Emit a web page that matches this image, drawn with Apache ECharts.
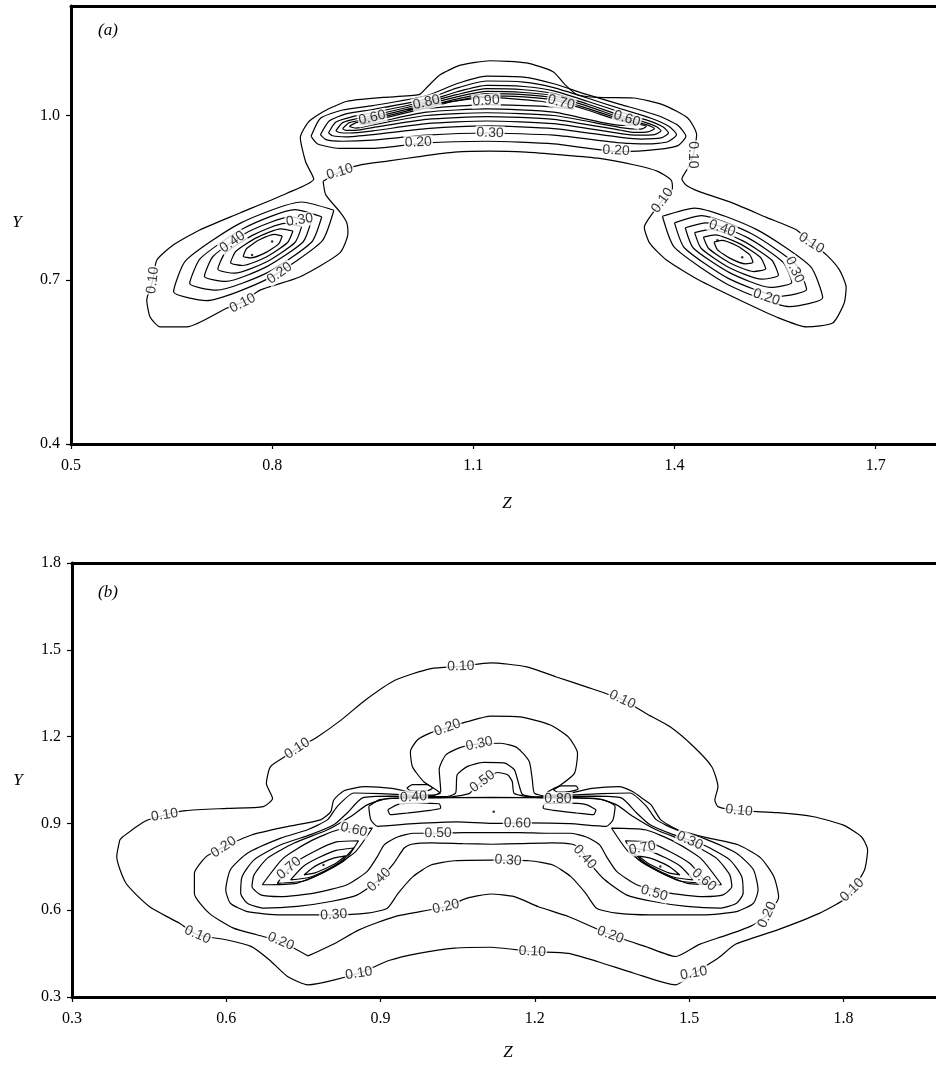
<!DOCTYPE html>
<html><head><meta charset="utf-8">
<script src="https://cdn.jsdelivr.net/npm/echarts@6/dist/echarts.min.js"></script>
<style>html,body{margin:0;padding:0;background:#fff}#c{width:936px;height:1066px}</style>
</head><body><div id="c"></div>
<script>
// ---------- axis ticks ----------
const xTicksA = [0.5, 0.8, 1.1, 1.4, 1.7];
const yTicksA = [0.4, 0.7, 1.0];
const xTicksB = [0.3, 0.6, 0.9, 1.2, 1.5, 1.8];
const yTicksB = [0.3, 0.6, 0.9, 1.2, 1.5, 1.8];

// ---------- panel (a) contours [Z, Y] ----------
const A_c010 = [[0.876,0.880],[0.880,0.855],[0.901,0.824],[0.911,0.805],[0.913,0.785],[0.901,0.749],[0.841,0.705],[0.782,0.681],[0.756,0.659],[0.732,0.648],[0.673,0.614],[0.633,0.614],[0.618,0.632],[0.613,0.663],[0.622,0.699],[0.628,0.736],[0.652,0.763],[0.692,0.791],[0.752,0.822],[0.822,0.858],[0.862,0.884],[0.850,0.915],[0.842,0.960],[0.854,0.988],[0.876,1.007],[0.912,1.026],[0.965,1.033],[1.019,1.038],[1.032,1.053],[1.050,1.074],[1.081,1.092],[1.125,1.100],[1.179,1.096],[1.219,1.080],[1.237,1.056],[1.255,1.038],[1.286,1.033],[1.339,1.032],[1.384,1.019],[1.420,0.995],[1.433,0.965],[1.428,0.928],[1.420,0.904],[1.411,0.884],[1.418,0.872],[1.437,0.861],[1.487,0.840],[1.537,0.814],[1.582,0.791],[1.604,0.767],[1.627,0.745],[1.646,0.718],[1.656,0.686],[1.653,0.657],[1.636,0.621],[1.597,0.614],[1.552,0.632],[1.497,0.663],[1.437,0.699],[1.388,0.736],[1.363,0.767],[1.355,0.796],[1.363,0.814],[1.382,0.845],[1.397,0.867],[1.395,0.882],[1.375,0.898],[1.339,0.910],[1.286,0.922],[1.232,0.928],[1.179,0.933],[1.125,0.935],[1.072,0.933],[1.019,0.925],[0.974,0.917],[0.929,0.909],[0.901,0.897],[0.876,0.880]];
const A_left020 = [[0.892,0.827],[0.844,0.842],[0.752,0.803],[0.671,0.735],[0.653,0.678],[0.702,0.662],[0.794,0.702],[0.874,0.770],[0.892,0.827]];
const A_left030 = [[0.874,0.815],[0.834,0.828],[0.759,0.795],[0.693,0.739],[0.677,0.693],[0.717,0.681],[0.793,0.713],[0.859,0.769],[0.874,0.815]];
const A_left040 = [[0.858,0.806],[0.827,0.815],[0.765,0.788],[0.712,0.743],[0.699,0.706],[0.731,0.697],[0.792,0.724],[0.846,0.769],[0.858,0.806]];
const A_left050 = [[0.844,0.797],[0.819,0.803],[0.772,0.782],[0.729,0.747],[0.719,0.719],[0.744,0.712],[0.792,0.733],[0.834,0.768],[0.844,0.797]];
const A_left060 = [[0.831,0.789],[0.813,0.793],[0.777,0.777],[0.746,0.752],[0.738,0.731],[0.756,0.726],[0.792,0.742],[0.823,0.768],[0.831,0.789]];
const A_left070 = [[0.815,0.780],[0.804,0.783],[0.781,0.773],[0.762,0.757],[0.757,0.743],[0.768,0.740],[0.791,0.750],[0.810,0.766],[0.815,0.780]];
const A_right020 = [[1.382,0.816],[1.430,0.831],[1.522,0.792],[1.603,0.724],[1.621,0.667],[1.572,0.651],[1.480,0.691],[1.400,0.759],[1.382,0.816]];
const A_right030 = [[1.400,0.804],[1.440,0.817],[1.515,0.784],[1.581,0.728],[1.597,0.682],[1.557,0.670],[1.481,0.702],[1.415,0.758],[1.400,0.804]];
const A_right040 = [[1.416,0.795],[1.447,0.804],[1.509,0.777],[1.562,0.732],[1.575,0.695],[1.543,0.686],[1.482,0.713],[1.428,0.758],[1.416,0.795]];
const A_right050 = [[1.430,0.786],[1.455,0.792],[1.502,0.771],[1.545,0.736],[1.555,0.708],[1.530,0.701],[1.482,0.722],[1.440,0.757],[1.430,0.786]];
const A_right060 = [[1.443,0.778],[1.461,0.782],[1.497,0.766],[1.528,0.741],[1.536,0.720],[1.518,0.715],[1.482,0.731],[1.451,0.757],[1.443,0.778]];
const A_right070 = [[1.459,0.769],[1.470,0.772],[1.493,0.762],[1.512,0.746],[1.517,0.732],[1.506,0.729],[1.483,0.739],[1.464,0.755],[1.459,0.769]];
const A_arch020 = [[0.858,0.962],[0.872,0.995],[0.905,1.010],[0.950,1.018],[1.030,1.036],[1.075,1.058],[1.120,1.072],[1.175,1.070],[1.220,1.058],[1.270,1.038],[1.320,1.020],[1.375,1.000],[1.405,0.982],[1.417,0.962],[1.405,0.945],[1.375,0.938],[1.320,0.934],[1.220,0.948],[1.120,0.953],[1.030,0.950],[0.950,0.940],[0.900,0.940],[0.868,0.948],[0.858,0.962]];
const A_arch030 = [[0.872,0.965],[0.885,0.990],[0.910,1.003],[0.950,1.011],[1.030,1.030],[1.075,1.050],[1.120,1.063],[1.175,1.061],[1.220,1.051],[1.270,1.032],[1.320,1.012],[1.365,0.995],[1.392,0.980],[1.403,0.965],[1.390,0.952],[1.360,0.948],[1.320,0.950],[1.220,0.964],[1.120,0.968],[1.030,0.964],[0.950,0.955],[0.905,0.953],[0.880,0.956],[0.872,0.965]];
const A_arch040 = [[0.884,0.968],[0.895,0.988],[0.920,0.998],[0.950,1.005],[1.030,1.026],[1.075,1.043],[1.120,1.055],[1.175,1.053],[1.220,1.045],[1.270,1.026],[1.320,1.006],[1.360,0.991],[1.383,0.979],[1.391,0.968],[1.380,0.959],[1.350,0.957],[1.320,0.960],[1.220,0.976],[1.120,0.981],[1.030,0.976],[0.950,0.965],[0.910,0.961],[0.890,0.963],[0.884,0.968]];
const A_arch050 = [[0.895,0.972],[0.905,0.987],[0.925,0.994],[0.950,1.000],[1.030,1.023],[1.075,1.038],[1.120,1.049],[1.175,1.047],[1.220,1.040],[1.270,1.021],[1.320,1.000],[1.355,0.988],[1.374,0.979],[1.380,0.972],[1.370,0.965],[1.345,0.964],[1.320,0.967],[1.220,0.985],[1.120,0.990],[1.030,0.985],[0.950,0.972],[0.915,0.968],[0.900,0.969],[0.895,0.972]];
const A_arch060 = [[0.905,0.976],[0.915,0.987],[0.935,0.992],[0.950,0.996],[1.030,1.020],[1.075,1.034],[1.120,1.044],[1.175,1.042],[1.220,1.036],[1.270,1.017],[1.320,0.996],[1.350,0.986],[1.365,0.980],[1.370,0.976],[1.360,0.970],[1.340,0.969],[1.320,0.973],[1.220,0.993],[1.120,0.998],[1.030,0.993],[0.950,0.978],[0.925,0.973],[0.910,0.973],[0.905,0.976]];
const A_arch070 = [[0.915,0.980],[0.925,0.987],[0.950,0.993],[1.030,1.017],[1.075,1.030],[1.120,1.040],[1.175,1.038],[1.220,1.032],[1.270,1.013],[1.320,0.993],[1.345,0.985],[1.358,0.980],[1.350,0.975],[1.320,0.978],[1.220,1.000],[1.120,1.005],[1.030,1.000],[0.950,0.983],[0.925,0.977],[0.915,0.980]];
const A_arch080 = [[0.930,0.984],[0.950,0.990],[1.030,1.014],[1.075,1.027],[1.120,1.036],[1.175,1.034],[1.220,1.028],[1.270,1.010],[1.320,0.990],[1.345,0.984],[1.320,0.982],[1.220,1.006],[1.120,1.012],[1.030,1.006],[0.950,0.986],[0.930,0.984]];
const A_arch090 = [[1.000,1.010],[1.050,1.022],[1.120,1.033],[1.200,1.026],[1.250,1.012],[1.200,1.017],[1.120,1.020],[1.050,1.015],[1.000,1.010]];
const A_dots = [[0.770,0.745],[0.800,0.770],[1.464,0.772],[1.501,0.741]];
const A_labels = [[0.756,0.657,'0.10'],[0.622,0.699,'0.10'],[0.811,0.712,'0.20'],[0.841,0.809,'0.30'],[0.741,0.769,'0.40'],
  [1.604,0.767,'0.10'],[1.382,0.845,'0.10'],[1.471,0.794,'0.40'],[1.579,0.718,'0.30'],[1.537,0.668,'0.20'],
  [0.901,0.897,'0.10'],[1.428,0.928,'0.10'],[1.018,0.951,'0.20'],[1.313,0.936,'0.20'],[1.125,0.968,'0.30'],
  [0.949,0.996,'0.60'],[1.030,1.024,'0.80'],[1.119,1.027,'0.90'],[1.231,1.024,'0.70'],[1.329,0.994,'0.60']];

// ---------- panel (b) contours [Z, Y] ----------
const B_c010 = [[0.393,0.843],[0.387,0.785],[0.405,0.693],[0.451,0.612],[0.509,0.555],[0.544,0.515],[0.602,0.497],[0.649,0.474],[0.684,0.428],[0.719,0.371],[0.759,0.342],[0.858,0.382],[0.916,0.426],[0.974,0.451],[1.044,0.469],[1.114,0.472],[1.195,0.457],[1.265,0.451],[1.323,0.422],[1.393,0.382],[1.474,0.342],[1.509,0.382],[1.556,0.434],[1.591,0.483],[1.672,0.532],[1.753,0.589],[1.800,0.635],[1.817,0.670],[1.841,0.739],[1.847,0.808],[1.835,0.854],[1.800,0.894],[1.742,0.923],[1.672,0.937],[1.597,0.944],[1.556,0.958],[1.550,0.981],[1.556,1.027],[1.544,1.096],[1.509,1.165],[1.463,1.234],[1.416,1.280],[1.370,1.328],[1.300,1.372],[1.242,1.406],[1.184,1.441],[1.114,1.455],[1.056,1.443],[0.998,1.435],[0.928,1.395],[0.870,1.326],[0.823,1.257],[0.777,1.199],[0.738,1.159],[0.719,1.136],[0.686,1.096],[0.678,1.038],[0.690,0.986],[0.672,0.958],[0.602,0.952],[0.521,0.944],[0.480,0.929],[0.440,0.906],[0.399,0.854],[0.393,0.843]];
const B_c020 = [[0.759,0.442],[0.706,0.492],[0.659,0.515],[0.614,0.538],[0.567,0.589],[0.538,0.658],[0.538,0.727],[0.561,0.785],[0.595,0.818],[0.649,0.860],[0.719,0.889],[0.783,0.912],[0.803,0.940],[0.809,0.981],[0.829,1.013],[0.870,1.027],[0.922,1.021],[0.963,1.006],[1.000,0.998],[1.016,1.004],[0.984,1.044],[0.962,1.096],[0.958,1.148],[0.972,1.189],[0.997,1.213],[1.030,1.231],[1.069,1.252],[1.114,1.271],[1.172,1.268],[1.230,1.240],[1.265,1.199],[1.283,1.142],[1.277,1.073],[1.250,1.033],[1.222,1.004],[1.236,0.998],[1.272,1.006],[1.311,1.021],[1.363,1.027],[1.390,1.010],[1.410,0.985],[1.426,0.964],[1.445,0.912],[1.478,0.878],[1.536,0.850],[1.595,0.826],[1.639,0.781],[1.665,0.715],[1.674,0.646],[1.652,0.584],[1.620,0.545],[1.570,0.512],[1.520,0.482],[1.474,0.440],[1.416,0.474],[1.347,0.515],[1.265,0.578],[1.207,0.612],[1.160,0.647],[1.114,0.656],[1.067,0.641],[1.027,0.612],[0.928,0.578],[0.858,0.532],[0.812,0.486],[0.759,0.442]];
const B_c030 = [[1.117,0.773],[1.044,0.771],[0.998,0.756],[0.963,0.716],[0.934,0.658],[0.913,0.607],[0.874,0.590],[0.809,0.584],[0.706,0.584],[0.641,0.595],[0.608,0.624],[0.599,0.670],[0.608,0.740],[0.641,0.797],[0.706,0.849],[0.758,0.878],[0.797,0.913],[0.816,0.959],[0.848,1.005],[0.900,1.003],[0.960,0.998],[1.000,0.995],[1.017,1.011],[1.014,1.086],[1.027,1.137],[1.056,1.163],[1.092,1.175],[1.134,1.177],[1.166,1.161],[1.189,1.114],[1.195,1.051],[1.199,1.005],[1.220,0.995],[1.270,0.998],[1.330,1.003],[1.385,1.005],[1.417,0.959],[1.436,0.913],[1.475,0.878],[1.527,0.849],[1.592,0.797],[1.625,0.740],[1.634,0.670],[1.625,0.624],[1.592,0.595],[1.527,0.584],[1.424,0.584],[1.359,0.590],[1.320,0.607],[1.299,0.658],[1.270,0.716],[1.235,0.756],[1.189,0.771],[1.117,0.773]];
const B_c040 = [[1.117,0.828],[1.060,0.830],[1.000,0.833],[0.960,0.828],[0.946,0.815],[0.926,0.763],[0.897,0.705],[0.855,0.653],[0.803,0.630],[0.738,0.613],[0.673,0.607],[0.641,0.624],[0.628,0.659],[0.631,0.717],[0.654,0.774],[0.706,0.826],[0.764,0.861],[0.809,0.895],[0.835,0.936],[0.865,0.988],[0.920,0.994],[0.980,0.993],[1.030,0.993],[1.046,1.005],[1.049,1.068],[1.069,1.097],[1.101,1.111],[1.140,1.109],[1.160,1.086],[1.169,1.034],[1.176,1.000],[1.200,0.992],[1.250,0.993],[1.313,0.994],[1.368,0.988],[1.398,0.936],[1.424,0.895],[1.469,0.861],[1.527,0.826],[1.579,0.774],[1.602,0.717],[1.605,0.659],[1.592,0.624],[1.560,0.607],[1.495,0.613],[1.430,0.630],[1.378,0.653],[1.336,0.705],[1.307,0.763],[1.287,0.815],[1.273,0.828],[1.233,0.833],[1.170,0.830],[1.117,0.828]];
const B_c050 = [[1.117,0.868],[1.060,0.868],[1.010,0.866],[0.965,0.866],[0.933,0.853],[0.907,0.826],[0.894,0.786],[0.874,0.734],[0.835,0.688],[0.771,0.659],[0.706,0.647],[0.667,0.653],[0.650,0.682],[0.654,0.722],[0.680,0.780],[0.732,0.832],[0.797,0.878],[0.842,0.924],[0.874,0.964],[0.910,0.985],[0.960,0.989],[1.030,0.990],[1.072,1.003],[1.082,1.022],[1.098,1.045],[1.127,1.076],[1.147,1.068],[1.156,1.045],[1.160,1.003],[1.200,0.990],[1.270,0.989],[1.323,0.985],[1.359,0.964],[1.391,0.924],[1.436,0.878],[1.501,0.832],[1.553,0.780],[1.579,0.722],[1.583,0.682],[1.566,0.653],[1.527,0.647],[1.462,0.659],[1.398,0.688],[1.359,0.734],[1.339,0.786],[1.326,0.826],[1.300,0.853],[1.268,0.866],[1.223,0.866],[1.170,0.868],[1.117,0.868]];
const B_plateau060 = [[0.877,0.959],[0.881,0.913],[0.894,0.890],[0.965,0.899],[1.049,0.905],[1.117,0.900],[1.185,0.902],[1.268,0.899],[1.339,0.890],[1.352,0.913],[1.356,0.959],[1.330,0.983],[1.250,0.988],[1.117,0.990],[0.980,0.988],[0.900,0.983],[0.877,0.959]];
const B_left060 = [[0.670,0.688],[0.711,0.780],[0.762,0.837],[0.818,0.878],[0.884,0.884],[0.850,0.800],[0.792,0.734],[0.736,0.693],[0.670,0.688]];
const B_left070 = [[0.699,0.693],[0.732,0.762],[0.772,0.804],[0.814,0.836],[0.857,0.840],[0.832,0.775],[0.792,0.733],[0.749,0.700],[0.699,0.693]];
const B_left080 = [[0.725,0.705],[0.750,0.752],[0.780,0.782],[0.812,0.806],[0.848,0.815],[0.823,0.768],[0.793,0.737],[0.761,0.713],[0.725,0.705]];
const B_left090 = [[0.751,0.722],[0.769,0.748],[0.789,0.766],[0.810,0.781],[0.832,0.788],[0.814,0.763],[0.794,0.745],[0.774,0.730],[0.751,0.722]];
const B_right060 = [[1.563,0.688],[1.522,0.780],[1.471,0.837],[1.415,0.878],[1.349,0.884],[1.383,0.800],[1.441,0.734],[1.497,0.693],[1.563,0.688]];
const B_right070 = [[1.534,0.693],[1.501,0.762],[1.461,0.804],[1.419,0.836],[1.376,0.840],[1.401,0.775],[1.441,0.733],[1.484,0.700],[1.534,0.693]];
const B_right080 = [[1.508,0.705],[1.483,0.752],[1.453,0.782],[1.421,0.806],[1.385,0.815],[1.410,0.768],[1.440,0.737],[1.472,0.713],[1.508,0.705]];
const B_right090 = [[1.482,0.722],[1.464,0.748],[1.444,0.766],[1.423,0.781],[1.401,0.788],[1.419,0.763],[1.439,0.745],[1.459,0.730],[1.482,0.722]];
const B_smallUL = [[0.951,1.022],[0.962,1.034],[0.991,1.034],[1.001,1.022],[0.991,1.013],[0.958,1.013],[0.951,1.022]];
const B_smallUR = [[1.236,1.016],[1.251,1.030],[1.280,1.030],[1.284,1.019],[1.270,1.011],[1.244,1.008],[1.236,1.016]];
const B_smallLL = [[0.914,0.947],[0.933,0.965],[0.971,0.970],[1.014,0.968],[1.017,0.953],[0.997,0.945],[0.952,0.936],[0.919,0.930],[0.914,0.947]];
const B_smallLR = [[1.319,0.947],[1.300,0.965],[1.262,0.970],[1.219,0.968],[1.216,0.953],[1.236,0.945],[1.281,0.936],[1.314,0.930],[1.319,0.947]];
const B_dots = [[1.120,0.940],[0.789,0.756],[1.444,0.751]];
const B_labels = [[1.056,1.443,'0.10'],[0.738,1.159,'0.10'],[1.370,1.328,'0.10'],[0.480,0.929,'0.10'],[1.597,0.944,'0.10'],[1.817,0.670,'0.10'],[0.544,0.515,'0.10'],[0.858,0.382,'0.10'],[1.195,0.457,'0.10'],[1.509,0.382,'0.10'],
  [1.030,1.231,'0.20'],[0.595,0.818,'0.20'],[0.706,0.492,'0.20'],[1.027,0.612,'0.20'],[1.347,0.515,'0.20'],[1.652,0.584,'0.20'],
  [1.092,1.175,'0.30'],[0.809,0.584,'0.30'],[1.148,0.772,'0.30'],[1.501,0.840,'0.30'],
  [0.897,0.705,'0.40'],[1.297,0.784,'0.40'],[0.964,0.991,'0.40'],
  [1.098,1.045,'0.50'],[1.012,0.866,'0.50'],[1.432,0.659,'0.50'],
  [1.166,0.900,'0.60'],[0.848,0.878,'0.60'],[1.529,0.705,'0.60'],
  [0.722,0.745,'0.70'],[1.409,0.815,'0.70'],
  [1.245,0.985,'0.80']];

const linesA = [A_c010, A_left020, A_left030, A_left040, A_left050, A_left060, A_left070,
  A_right020, A_right030, A_right040, A_right050, A_right060, A_right070,
  A_arch020, A_arch030, A_arch040, A_arch050, A_arch060, A_arch070, A_arch080, A_arch090];
const linesB = [B_c010, B_c020, B_c030, B_c040, B_c050, B_plateau060,
  B_left060, B_left070, B_left080, B_left090, B_right060, B_right070, B_right080, B_right090,
  B_smallUL, B_smallUR, B_smallLL, B_smallLR];

// ---------- chart ----------
const chart = echarts.init(document.getElementById('c'), null, {renderer: 'canvas'});
const serif = '"Liberation Serif", "DejaVu Serif", serif';

function bottomAxis(gi, min, max, ticks) {
  return {type: 'value', gridIndex: gi, min: min, max: max, interval: 0.3, position: 'bottom',
    axisLine: {show: true, onZero: false, lineStyle: {color: '#000', width: 3}},
    axisTick: {show: true, inside: false, length: 5, customValues: ticks, lineStyle: {color: '#000', width: 1.2}},
    axisLabel: {show: true, customValues: ticks, margin: 14, color: '#000', fontFamily: serif, fontSize: 16,
      formatter: v => Number(v).toFixed(1)},
    splitLine: {show: false}};
}
function leftAxis(gi, min, max, ticks) {
  return {type: 'value', gridIndex: gi, min: min, max: max, interval: 0.3, position: 'left',
    axisLine: {show: true, onZero: false, lineStyle: {color: '#000', width: 3}},
    axisTick: {show: true, inside: false, length: 5, customValues: ticks, lineStyle: {color: '#000', width: 1.2}},
    axisLabel: {show: true, customValues: ticks, margin: 11, color: '#000', fontFamily: serif, fontSize: 16,
      formatter: v => Number(v).toFixed(1)},
    splitLine: {show: false}};
}
function topAxis(gi, min, max) {
  return {type: 'value', gridIndex: gi, min: min, max: max, position: 'top',
    axisLine: {show: true, onZero: false, lineStyle: {color: '#000', width: 3}},
    axisTick: {show: false}, axisLabel: {show: false}, splitLine: {show: false}};
}
function lineSeries(d, gi) {
  return {type: 'line', xAxisIndex: gi, yAxisIndex: gi, data: d, showSymbol: false, symbol: 'none',
    smooth: 0.2, lineStyle: {color: '#000', width: 1.2}, silent: true, z: 2, animation: false};
}
function dotSeries(d, gi) {
  return {type: 'scatter', xAxisIndex: gi, yAxisIndex: gi, data: d, symbolSize: 2.5,
    itemStyle: {color: '#000'}, silent: true, z: 3};
}
function labelSeries(id, labels, gi, rots) {
  return {id: id, type: 'scatter', xAxisIndex: gi, yAxisIndex: gi, symbolSize: 1, silent: true, z: 5,
    itemStyle: {color: 'rgba(0,0,0,0)'},
    data: labels.map((l, i) => ({value: [l[0], l[1]], name: l[2], label: {rotate: rots ? rots[i] : 0}})),
    label: {show: true, position: 'inside', formatter: '{b}', color: '#000',
      fontFamily: '"Liberation Sans", Arial, sans-serif', fontSize: 14,
      backgroundColor: '#fff', padding: [0, 1]}};
}

const series = [];
linesA.forEach(l => series.push(lineSeries(l, 0)));
linesB.forEach(l => series.push(lineSeries(l, 1)));
series.push(dotSeries(A_dots, 0));
series.push(dotSeries(B_dots, 1));
series.push(labelSeries('labA', A_labels, 0, null));
series.push(labelSeries('labB', B_labels, 1, null));

const italic = 'italic 17px "Liberation Serif", serif';
chart.setOption({
  animation: false,
  backgroundColor: '#fff',
  grid: [
    {left: 71, top: 6, right: 0, height: 438, outerBoundsMode: 'none'},
    {left: 72, top: 563, right: 0, height: 434, outerBoundsMode: 'none'}
  ],
  xAxis: [bottomAxis(0, 0.5, 1.79, xTicksA), bottomAxis(1, 0.3, 1.98, xTicksB), topAxis(0, 0.5, 1.79), topAxis(1, 0.3, 1.98)],
  yAxis: [leftAxis(0, 0.4, 1.2, yTicksA), leftAxis(1, 0.3, 1.8, yTicksB)],
  graphic: [
    {type: 'text', x: 108, y: 31, style: {text: '(a)', font: italic, fill: '#000', align: 'center', verticalAlign: 'middle'}},
    {type: 'text', x: 108, y: 593, style: {text: '(b)', font: italic, fill: '#000', align: 'center', verticalAlign: 'middle'}},
    {type: 'text', x: 17, y: 223, style: {text: 'Y', font: italic, fill: '#000', align: 'center', verticalAlign: 'middle'}},
    {type: 'text', x: 18, y: 781, style: {text: 'Y', font: italic, fill: '#000', align: 'center', verticalAlign: 'middle'}},
    {type: 'text', x: 507, y: 504, style: {text: 'Z', font: italic, fill: '#000', align: 'center', verticalAlign: 'middle'}},
    {type: 'text', x: 508, y: 1053, style: {text: 'Z', font: italic, fill: '#000', align: 'center', verticalAlign: 'middle'}}
  ],
  series: series
});

// rotate each inline label along the nearest contour line
function computeRot(labels, lines, gi) {
  const polys = lines.map(l => l.map(p => chart.convertToPixel({gridIndex: gi}, p)));
  return labels.map(lb => {
    const p = chart.convertToPixel({gridIndex: gi}, [lb[0], lb[1]]);
    let best = Infinity, ang = 0;
    polys.forEach(px => {
      for (let i = 0; i < px.length - 1; i++) {
        const a = px[i], b = px[i + 1];
        const dx = b[0] - a[0], dy = b[1] - a[1];
        const L2 = dx * dx + dy * dy || 1e-9;
        let t = ((p[0] - a[0]) * dx + (p[1] - a[1]) * dy) / L2;
        t = Math.max(0, Math.min(1, t));
        const qx = a[0] + t * dx - p[0], qy = a[1] + t * dy - p[1];
        const d = qx * qx + qy * qy;
        if (d < best) {
          best = d;
          const a2 = px[Math.max(0, i - 1)], b2 = px[Math.min(px.length - 1, i + 2)];
          ang = Math.atan2(-(b2[1] - a2[1]), b2[0] - a2[0]) * 180 / Math.PI;
        }
      }
    });
    if (ang > 90) ang -= 180;
    if (ang < -90) ang += 180;
    return ang;
  });
}
chart.setOption({series: [
  labelSeries('labA', A_labels, 0, computeRot(A_labels, linesA, 0)),
  labelSeries('labB', B_labels, 1, computeRot(B_labels, linesB, 1))
]});
</script>
</body></html>
